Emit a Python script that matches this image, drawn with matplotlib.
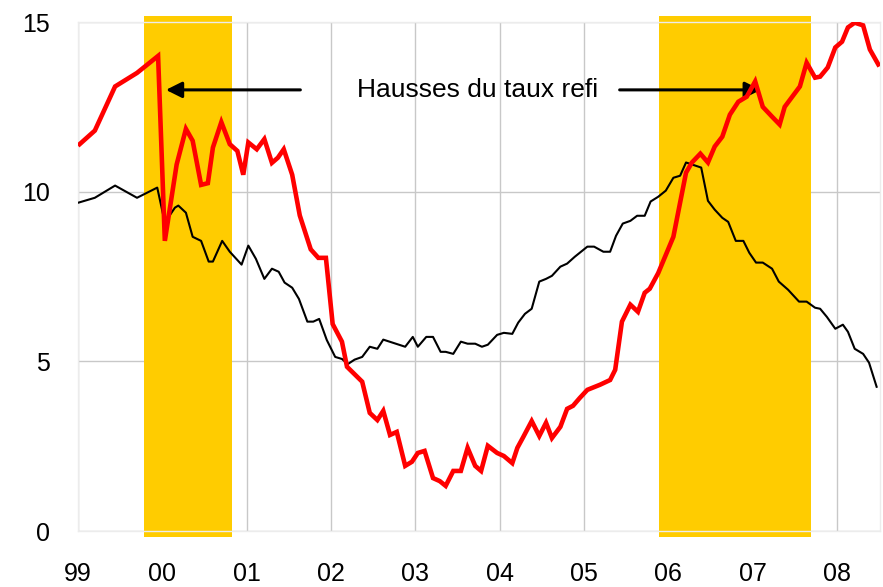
import matplotlib.pyplot as plt

plt.rcParams['font.family'] = ['Liberation Sans', 'DejaVu Sans']

# red series (thick) - position in decimal years, value
red_x = [1999.02, 1999.20, 1999.44, 1999.70, 1999.95, 2000.03, 2000.17, 2000.28, 2000.36, 2000.46,
         2000.54, 2000.60, 2000.70, 2000.80, 2000.89, 2000.96, 2001.02, 2001.12, 2001.21, 2001.30,
         2001.37, 2001.44, 2001.54, 2001.63, 2001.76, 2001.85, 2001.94, 2002.02, 2002.13, 2002.19,
         2002.37, 2002.46, 2002.55, 2002.62, 2002.70, 2002.78, 2002.88, 2002.96, 2003.03, 2003.11,
         2003.21, 2003.29, 2003.36, 2003.45, 2003.54, 2003.62, 2003.71, 2003.78, 2003.86, 2003.97,
         2004.05, 2004.15, 2004.21, 2004.28, 2004.38, 2004.47, 2004.55, 2004.62, 2004.72, 2004.80,
         2004.87, 2004.95, 2005.04, 2005.19, 2005.31, 2005.37, 2005.45, 2005.55, 2005.64, 2005.72,
         2005.78, 2005.88, 2006.06, 2006.14, 2006.21, 2006.28, 2006.38, 2006.47, 2006.55, 2006.64,
         2006.73, 2006.83, 2006.93, 2007.03, 2007.12, 2007.23, 2007.32, 2007.38, 2007.56, 2007.64,
         2007.74, 2007.80, 2007.89, 2007.98, 2008.06, 2008.13, 2008.21, 2008.31, 2008.39, 2008.49]
red_y = [11.4, 11.8, 13.1, 13.5, 14.0, 8.55, 10.8, 11.85, 11.5, 10.2,
         10.25, 11.3, 12.05, 11.4, 11.2, 10.5, 11.45, 11.25, 11.55, 10.85,
         11.0, 11.25, 10.5, 9.3, 8.3, 8.05, 8.05, 6.1, 5.58, 4.84,
         4.4, 3.48, 3.27, 3.54, 2.83, 2.92, 1.92, 2.04, 2.3, 2.36,
         1.56, 1.47, 1.33, 1.77, 1.77, 2.45, 1.92, 1.77, 2.51, 2.3,
         2.21, 2.0, 2.45, 2.77, 3.24, 2.8, 3.19, 2.74, 3.07, 3.6,
         3.69, 3.92, 4.16, 4.31, 4.45, 4.75, 6.17, 6.67, 6.46, 7.02,
         7.14, 7.6, 8.67, 9.68, 10.56, 10.86, 11.12, 10.86, 11.33, 11.62,
         12.27, 12.65, 12.8, 13.25, 12.5, 12.21, 11.98, 12.5, 13.1, 13.8,
         13.36, 13.39, 13.66, 14.25, 14.42, 14.84, 14.98, 14.9, 14.19, 13.75]

# black series (thin)
black_x = [1999.01, 1999.20, 1999.44, 1999.70, 1999.94, 2000.03, 2000.15, 2000.19, 2000.28, 2000.36,
           2000.46, 2000.55, 2000.60, 2000.71, 2000.80, 2000.94, 2001.02, 2001.11, 2001.21, 2001.30,
           2001.38, 2001.45, 2001.54, 2001.62, 2001.72, 2001.79, 2001.86, 2001.95, 2002.05, 2002.13,
           2002.20, 2002.28, 2002.37, 2002.46, 2002.55, 2002.62, 2002.88, 2002.97, 2003.03, 2003.13,
           2003.21, 2003.30, 2003.36, 2003.45, 2003.54, 2003.62, 2003.71, 2003.79, 2003.86, 2003.97,
           2004.05, 2004.15, 2004.22, 2004.30, 2004.38, 2004.47, 2004.55, 2004.62, 2004.72, 2004.80,
           2004.89, 2004.95, 2005.04, 2005.12, 2005.23, 2005.31, 2005.38, 2005.46, 2005.55, 2005.63,
           2005.72, 2005.79, 2005.88, 2005.97, 2006.06, 2006.14, 2006.21, 2006.39, 2006.47, 2006.55,
           2006.64, 2006.71, 2006.80, 2006.89, 2006.96, 2007.04, 2007.12, 2007.23, 2007.31, 2007.42,
           2007.55, 2007.64, 2007.74, 2007.80, 2007.88, 2007.98, 2008.07, 2008.13, 2008.21, 2008.31,
           2008.38, 2008.47]
black_y = [9.68, 9.82, 10.18, 9.82, 10.12, 9.09, 9.53, 9.59, 9.38, 8.67,
           8.55, 7.94, 7.94, 8.55, 8.23, 7.85, 8.41, 8.02, 7.43, 7.73,
           7.64, 7.32, 7.17, 6.84, 6.17, 6.17, 6.25, 5.63, 5.13, 5.07,
           4.92, 5.05, 5.13, 5.43, 5.37, 5.64, 5.43, 5.72, 5.43, 5.72,
           5.72, 5.28, 5.28, 5.22, 5.58, 5.52, 5.52, 5.43, 5.49, 5.78,
           5.84, 5.81, 6.14, 6.40, 6.55, 7.35, 7.43, 7.52, 7.79, 7.88,
           8.08, 8.20, 8.38, 8.38, 8.23, 8.23, 8.70, 9.06, 9.14, 9.29,
           9.29, 9.71, 9.85, 10.03, 10.41, 10.47, 10.86, 10.71, 9.73, 9.47,
           9.23, 9.11, 8.55, 8.55, 8.20, 7.91, 7.91, 7.73, 7.35, 7.11,
           6.76, 6.76, 6.58, 6.55, 6.31, 5.96, 6.08, 5.87, 5.37, 5.22,
           4.96, 4.25]

# shaded periods (hausses du taux refi)
band_start = [1999.78, 2005.89]
band_end = [2000.83, 2007.69]

year_ticks = list(range(1999, 2009))
year_labels = ['99', '00', '01', '02', '03', '04', '05', '06', '07', '08']

fig = plt.figure(figsize=(8.83, 5.87), dpi=100)
ax = fig.add_axes([0.0883, 0.0954, 0.9083, 0.8671])

for x0, x1 in zip(band_start, band_end):
    ax.fill_between([x0, x1], -0.18, 15.18, color='#FFCC00', lw=0, zorder=2, clip_on=False)

ax.plot(black_x, black_y, color='black', lw=1.5, zorder=3)
ax.plot(red_x, red_y, color='#FF0000', lw=3.3, zorder=4, solid_joinstyle='miter')

ax.annotate('', xy=(2000.01, 13.0), xytext=(2001.67, 13.0),
            arrowprops=dict(arrowstyle='-|>', color='black', lw=2.2, mutation_scale=24))
ax.annotate('', xy=(2007.13, 13.0), xytext=(2005.39, 13.0),
            arrowprops=dict(arrowstyle='-|>', color='black', lw=2.2, mutation_scale=24))
ax.text(2003.74, 13.0, 'Hausses du taux refi', ha='center', va='center', fontsize=19)

ax.set_xlim(1999, 2008.51)
ax.set_ylim(0, 15)
ax.set_xticks(year_ticks)
ax.set_xticklabels(year_labels)
ax.set_yticks([0, 5, 10, 15])
ax.tick_params(length=0, labelsize=18, pad=20)
ax.tick_params(axis='x', pad=22)
ax.grid(True, color='#c8c8c8', lw=1, zorder=1)
ax.set_axisbelow(True)
for s in ax.spines.values():
    s.set_color('#ececec')
    s.set_linewidth(1)

fig.savefig('out.png', dpi=100)
